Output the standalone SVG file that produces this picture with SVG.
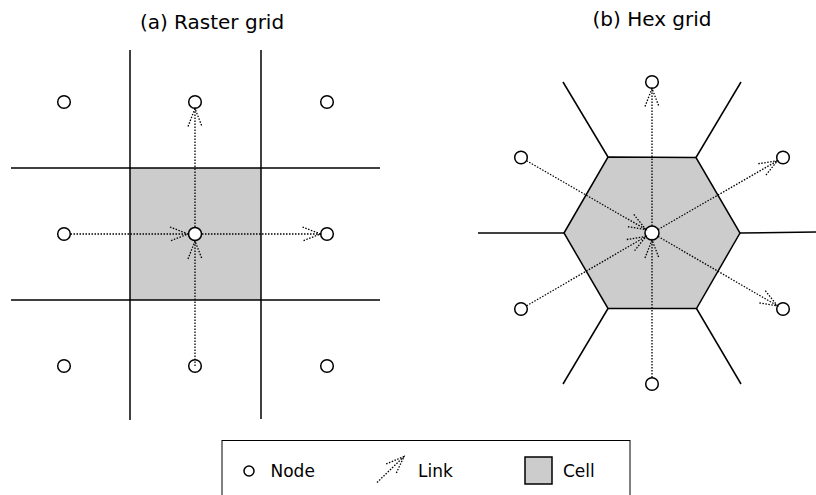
<svg xmlns="http://www.w3.org/2000/svg" width="816" height="495" viewBox="0 0 816 495">
<style>
text{font-family:"DejaVu Sans","Liberation Sans",sans-serif;fill:#000}
.title{font-size:20px;text-anchor:middle}
.leg{font-size:17px}
.grid{stroke:#000;stroke-width:1.5;fill:none}
.cell{fill:#cccccc}
.node{fill:#fff;stroke:#000;stroke-width:1.5}
.link{stroke:#000;stroke-width:1.3;stroke-dasharray:1.5 1.5;fill:none;marker-end:url(#arr)}
</style>
<defs>
<marker id="arr" markerUnits="userSpaceOnUse" orient="auto" markerWidth="24" markerHeight="20" refX="20" refY="10" viewBox="0 0 24 20" overflow="visible">
<path d="M2,3 L20,10 L2,17" fill="none" stroke="#000" stroke-width="1.3" stroke-dasharray="1.5 1.5"/>
</marker>
</defs>
<rect width="816" height="495" fill="#fff"/>
<text class="title" x="212" y="29">(a) Raster grid</text>
<text class="title" x="652" y="26">(b) Hex grid</text>

<g id="raster-cell"><rect class="cell" x="130" y="168" width="131" height="132"/></g>
<g id="raster-grid">
<line class="grid" x1="130" y1="50" x2="130" y2="420"/>
<line class="grid" x1="261" y1="50" x2="261" y2="419"/>
<line class="grid" x1="11" y1="168" x2="380" y2="168"/>
<line class="grid" x1="11" y1="300" x2="380" y2="300"/>
</g>

<g id="hex-cell"><polygon class="cell" points="564,233 608,157 696,157.5 740,233 696.5,308.5 608,308.5" stroke="#000" stroke-width="1.5"/></g>
<g id="hex-grid">
<line class="grid" x1="608" y1="157" x2="563" y2="82"/>
<line class="grid" x1="696" y1="157.5" x2="741" y2="82"/>
<line class="grid" x1="564" y1="233" x2="478" y2="233"/>
<line class="grid" x1="740" y1="233" x2="816" y2="232"/>
<line class="grid" x1="608" y1="308.5" x2="563" y2="384"/>
<line class="grid" x1="696.5" y1="308.5" x2="741" y2="384"/>
</g>

<g id="raster-nodes">
<g id="r-n00"><circle class="node" cx="64" cy="102" r="6.3"/></g>
<g id="r-n01"><circle class="node" cx="195" cy="102" r="6.3"/></g>
<g id="r-n02"><circle class="node" cx="327" cy="102" r="6.3"/></g>
<g id="r-n10"><circle class="node" cx="64" cy="234" r="6.3"/></g>
<g id="r-n11"><circle class="node" cx="195" cy="234" r="6.5"/></g>
<g id="r-n12"><circle class="node" cx="327" cy="234" r="6.3"/></g>
<g id="r-n20"><circle class="node" cx="64" cy="366" r="6.3"/></g>
<g id="r-n21"><circle class="node" cx="195" cy="366" r="6.3"/></g>
<g id="r-n22"><circle class="node" cx="327" cy="366" r="6.3"/></g>
</g>

<g id="hex-nodes">
<g id="h-c"><circle class="node" cx="652" cy="233" r="7"/></g>
<g id="h-t"><circle class="node" cx="652" cy="82" r="6.3"/></g>
<g id="h-ul"><circle class="node" cx="521" cy="157.5" r="6.3"/></g>
<g id="h-ur"><circle class="node" cx="783" cy="157.5" r="6.3"/></g>
<g id="h-ll"><circle class="node" cx="521" cy="309" r="6.3"/></g>
<g id="h-lr"><circle class="node" cx="783" cy="309" r="6.3"/></g>
<g id="h-b"><circle class="node" cx="652" cy="384" r="6.3"/></g>
</g>

<g id="connectors">
<line class="link" x1="70.5" y1="234" x2="188" y2="234"/>
<line class="link" x1="202" y1="234" x2="320.5" y2="234"/>
<line class="link" x1="195" y1="227" x2="195" y2="108.5"/>
<line class="link" x1="195" y1="366" x2="195" y2="241"/>
<line class="link" x1="652" y1="226" x2="652" y2="88.5"/>
<line class="link" x1="526.6" y1="160.8" x2="645.9" y2="229.5"/>
<line class="link" x1="658.1" y1="229.5" x2="777.4" y2="160.8"/>
<line class="link" x1="526.6" y1="305.8" x2="645.9" y2="236.5"/>
<line class="link" x1="658.1" y1="236.5" x2="777.4" y2="305.8"/>
<line class="link" x1="652" y1="377.5" x2="652" y2="240"/>
</g>

<g id="legend">
<rect x="222" y="440.5" width="408" height="60" fill="#fff" stroke="#000" stroke-width="1"/>
<circle class="node" cx="249" cy="471" r="5"/>
<text class="leg" x="270.5" y="477">Node</text>
<line class="link" x1="377" y1="482.5" x2="404" y2="456.5"/>
<text class="leg" x="418" y="477">Link</text>
<rect x="525" y="457" width="27" height="27" fill="#cccccc" stroke="#000" stroke-width="1.5"/>
<text class="leg" x="563" y="477">Cell</text>
</g>
</svg>
